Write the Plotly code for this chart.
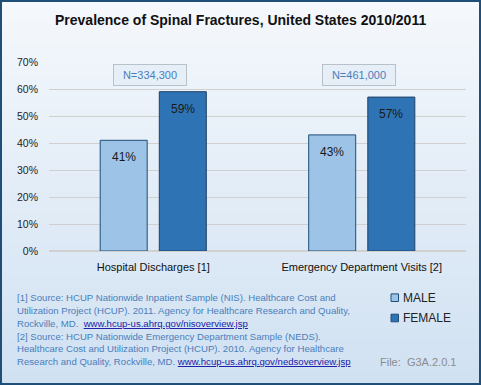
import plotly.graph_objects as go

categories = ["Hospital Discharges [1]", "Emergency Department Visits [2]"]
male = [0.41, 0.43]
female = [0.59, 0.57]
sample_sizes = ["N=334,300", "N=461,000"]
y_ticks = [0, 0.1, 0.2, 0.3, 0.4, 0.5, 0.6, 0.7]
y_tick_labels = ["0%", "10%", "20%", "30%", "40%", "50%", "60%", "70%"]
title_text = "Prevalence of Spinal Fractures, United States 2010/2011"
file_id = "File:  G3A.2.0.1"

W, H = 481, 385
L, R, T, B = 49, 15, 62, 134
pw, ph = W - L - R, H - T - B

def px(x):
    return (x - L) / pw

def py(y):
    return (H - B - y) / ph

FONT = "Liberation Sans"

fig = go.Figure()
fig.add_trace(go.Bar(
    x=categories, y=male, name="MALE",
    marker=dict(color="#9dc3e6", line=dict(color="#1f4e79", width=1)),
    showlegend=False, hoverinfo="skip",
))
fig.add_trace(go.Bar(
    x=categories, y=female, name="FEMALE",
    marker=dict(color="#2e74b5", line=dict(color="#1f3f66", width=1)),
    showlegend=False, hoverinfo="skip",
))

shapes = []
n = 60
top = (245, 248, 252)
bot = (208, 225, 242)
for i in range(n):
    f = i / (n - 1)
    c = tuple(round(top[k] + (bot[k] - top[k]) * f) for k in range(3))
    y0 = H * i / n
    y1 = H * (i + 1) / n + 0.6
    shapes.append(dict(type="rect", xref="paper", yref="paper",
                       x0=px(0), x1=px(W), y0=py(y1), y1=py(y0),
                       fillcolor="rgb(%d,%d,%d)" % c, line=dict(width=0), layer="below"))
shapes.append(dict(type="rect", xref="paper", yref="paper",
                   x0=px(1), x1=px(W - 1), y0=py(H - 1), y1=py(1),
                   fillcolor="rgba(0,0,0,0)", line=dict(color="#1f4e79", width=2), layer="above"))

annotations = []
annotations.append(dict(text="<b>" + title_text + "</b>", xref="paper", yref="paper",
                        x=px(240), y=py(20), showarrow=False, xanchor="center", yanchor="middle",
                        font=dict(size=14, color="#111111", family=FONT)))

for vals, shift in [(male, -29.5), (female, 29.5)]:
    for cat, v in zip(categories, vals):
        annotations.append(dict(text=f"{v*100:.0f}%", x=cat, y=v, xref="x", yref="y",
                                xshift=shift, yshift=-8, showarrow=False,
                                xanchor="center", yanchor="top",
                                font=dict(size=12, color="#1a1a1a", family=FONT)))

for cat, s in zip(categories, sample_sizes):
    annotations.append(dict(text=s, x=cat, xref="x", yref="paper", y=py(75),
                            xshift=-3, showarrow=False, xanchor="center", yanchor="middle",
                            font=dict(size=11, color="#4a7ebb", family=FONT),
                            bgcolor="#e6eef8", bordercolor="#b8c0c8", borderwidth=1,
                            borderpad=3, width=66, height=14))

foot_color = "#4a7ebb"
link_color = "#1a1aa6"
foot_lines = [
    "[1] Source: HCUP Nationwide Inpatient Sample (NIS). Healthcare Cost and",
    "Utilization Project (HCUP). 2011. Agency for Healthcare Research and Quality,",
    "Rockville, MD.  <span style='color:%s'><u>www.hcup-us.ahrq.gov/nisoverview.jsp</u></span>" % link_color,
    "[2] Source: HCUP Nationwide Emergency Department Sample (NEDS).",
    "Healthcare Cost and Utilization Project (HCUP). 2010. Agency for Healthcare",
    "Research and Quality, Rockville, MD. <span style='color:%s'><u>www.hcup-us.ahrq.gov/nedsoverview.jsp</u></span>" % link_color,
]
line_y = [297.7, 310.5, 323.3, 336.1, 348.9, 361.7]
for t, yy in zip(foot_lines, line_y):
    annotations.append(dict(text=t, xref="paper", yref="paper", x=px(15), y=py(yy),
                            showarrow=False, xanchor="left", yanchor="middle",
                            font=dict(size=9.6, color=foot_color, family=FONT)))

for name, color, yy in [("MALE", "#9dc3e6", 297.7), ("FEMALE", "#2e74b5", 318)]:
    shapes.append(dict(type="rect", xref="paper", yref="paper",
                       x0=px(391), x1=px(398.5), y0=py(yy + 3.8), y1=py(yy - 3.8),
                       fillcolor=color, line=dict(color="#1f4e79", width=1), layer="above"))
    annotations.append(dict(text=name, xref="paper", yref="paper", x=px(401), y=py(yy),
                            showarrow=False, xanchor="left", yanchor="middle",
                            font=dict(size=12, color="#222222", family=FONT)))

annotations.append(dict(text=file_id, xref="paper", yref="paper", x=px(458), y=py(362),
                        showarrow=False, xanchor="right", yanchor="middle",
                        font=dict(size=11, color="#8c8c8c", family=FONT)))

fig.update_layout(
    width=W, height=H,
    margin=dict(l=L, r=R, t=T, b=B, pad=0),
    paper_bgcolor="#eaf1f9",
    plot_bgcolor="rgba(0,0,0,0)",
    barmode="group", bargap=0.433, bargroupgap=0.205,
    shapes=shapes, annotations=annotations,
    hovermode=False,
    xaxis=dict(showgrid=False, showline=False, ticks="", ticklabelstandoff=8, fixedrange=True,
               tickfont=dict(size=11, color="#111111", family=FONT)),
    yaxis=dict(range=[0, 0.7], tickvals=y_ticks, ticktext=y_tick_labels, fixedrange=True,
               showgrid=True, gridcolor="#d0d0d0", gridwidth=1, zeroline=True, zerolinecolor="#d0d0d0",
               showline=False, ticks="", ticklabelstandoff=10,
               tickfont=dict(size=10.5, color="#222222", family=FONT)),
    font=dict(family=FONT),
)

fig.write_html("out.html", config={"displayModeBar": False},
               post_script="document.body.style.margin='0px';")
